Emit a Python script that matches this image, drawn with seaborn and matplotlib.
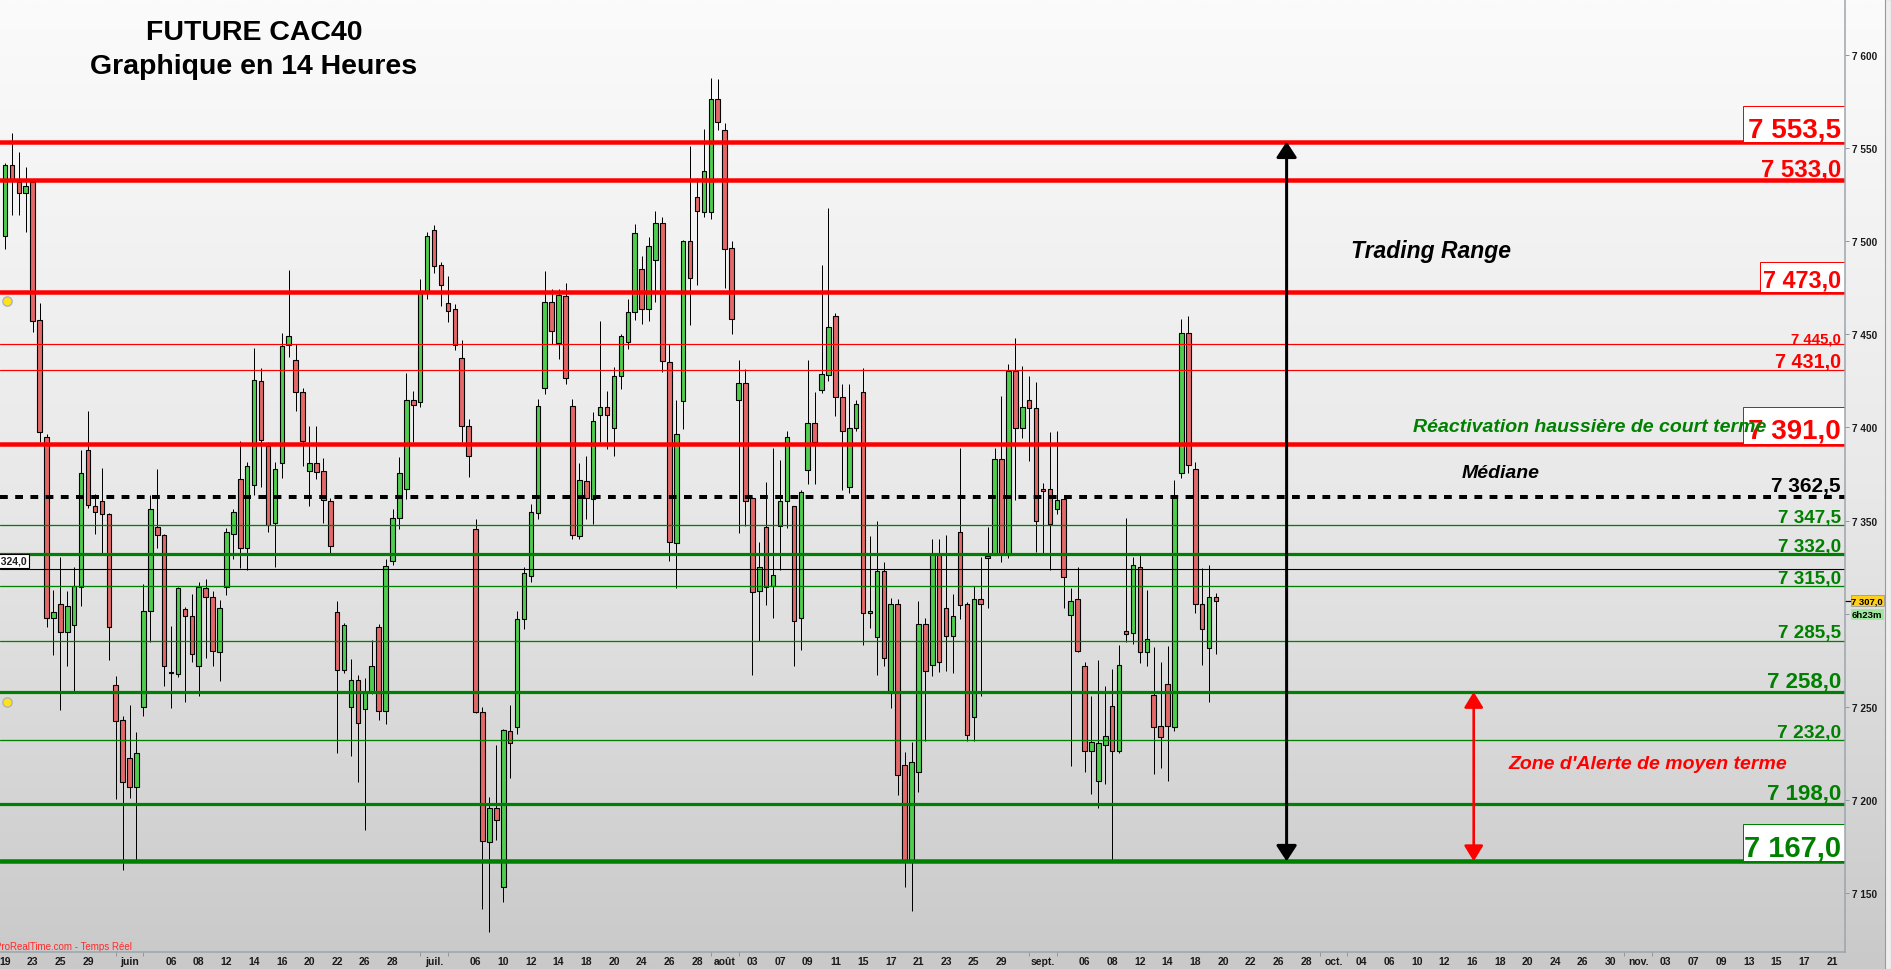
import numpy as np
import matplotlib
matplotlib.use("Agg")
import matplotlib.pyplot as plt
import matplotlib.transforms as mtransforms
from matplotlib.patches import Rectangle, FancyArrowPatch
from matplotlib.colors import LinearSegmentedColormap
import seaborn as sns

sns.set_theme(style="white")
plt.rcParams['font.family'] = ['Liberation Sans', 'DejaVu Sans']
plt.rcParams['axes.unicode_minus'] = False

# ---------------- data (14-hour candles, FCE future) ----------------
opens = [7503, 7541, 7531.6, 7525.7, 7531.6, 7457.7, 7394.7, 7297.5, 7305, 7290.3,
         7294, 7314.5, 7387.7, 7357.9, 7360.6, 7353.3, 7261.7, 7242.9, 7222.3, 7207,
         7249.7, 7301.2, 7346.7, 7342, 7268.5, 7267.4, 7302.3, 7298.5, 7271.7, 7314,
         7308.8, 7279.5, 7314.1, 7343, 7372.1, 7335.4, 7369.2, 7424.8, 7390.2, 7348.5,
         7380.7, 7444.2, 7436, 7418.9, 7376.8, 7381, 7376.4, 7360.3, 7300.7, 7270,
         7249.7, 7264.5, 7248.8, 7257.8, 7292.6, 7247.9, 7328.1, 7351.2, 7366.8, 7414.6,
         7413.9, 7472.6, 7506, 7487.4, 7466.8, 7463.6, 7437.1, 7400.9, 7345.3, 7247.4,
         7177.2, 7195.4, 7153, 7236.8, 7238.9, 7296.9, 7320.4, 7354.2, 7421, 7467.2,
         7445.1, 7470.4, 7411.4, 7341.9, 7371, 7361.7, 7406.5, 7411, 7399.8, 7427.5,
         7445.7, 7461.8, 7484.9, 7463.6, 7490, 7509.6, 7435, 7337.7, 7414, 7500,
         7523.6, 7515.6, 7515.6, 7576.4, 7559.6, 7496.2, 7415, 7423.7, 7361.9, 7312,
         7346.3, 7315, 7346.9, 7360.6, 7357.6, 7297.5, 7377.3, 7402.2, 7420.2, 7428.3,
         7459.7, 7416.3, 7368.2, 7399.5, 7418.9, 7300.5, 7287.3, 7322.7, 7257.2, 7305,
         7218.7, 7167.3, 7215.1, 7294.3, 7272.6, 7332.2, 7303.3, 7288.1, 7343.6, 7305,
         7244.3, 7307.7, 7330, 7331.7, 7383, 7331.7, 7430.1, 7399.5, 7414.6, 7410.3,
         7366.8, 7366.8, 7356, 7361.6, 7299.3, 7307.7, 7271.7, 7226, 7209.9, 7229.6,
         7250.6, 7226.4, 7290.5, 7289.5, 7325.3, 7279.2, 7256.5, 7239.5, 7262.1, 7239.3,
         7375.3, 7450.5, 7377.5, 7305, 7281.7, 7308.8]
highs = [7542, 7558, 7547.7, 7540, 7533, 7466.8, 7396.3, 7312.7, 7330.6, 7312,
         7325, 7388, 7408.8, 7364, 7378, 7354, 7266.7, 7245.2, 7251, 7236.6,
         7315.9, 7363.7, 7377.7, 7343, 7293.5, 7314.3, 7303.8, 7310.5, 7316.8, 7318.6,
         7312.3, 7307.5, 7346, 7356, 7392.7, 7381.3, 7442.6, 7431.9, 7392.3, 7381.3,
         7450.7, 7484.5, 7444.8, 7421, 7400.8, 7400.8, 7383.6, 7361.9, 7306.8, 7295,
         7275.6, 7267, 7265.4, 7285.8, 7294.4, 7329.3, 7356, 7384, 7429.2, 7419.6,
         7479.7, 7504.8, 7508.7, 7488.7, 7481.5, 7466.3, 7447, 7404.5, 7350.8, 7249.7,
         7201.7, 7229.4, 7238, 7250.9, 7301.4, 7325, 7358.9, 7415.3, 7484.2, 7474.3,
         7474.3, 7477.6, 7415.3, 7380.7, 7384.8, 7408.1, 7457.3, 7419.6, 7432.3, 7450.2,
         7469, 7509.2, 7492.2, 7502.1, 7516.2, 7512.9, 7445, 7414.7, 7500.6, 7551.3,
         7534, 7560.3, 7587.6, 7587.1, 7563.5, 7500, 7436.2, 7431.4, 7362.5, 7338.3,
         7370.5, 7389, 7382.5, 7398.3, 7358, 7366.2, 7436.2, 7419, 7487.2, 7517.8,
         7461.4, 7423.1, 7423.3, 7414.7, 7431.9, 7341.9, 7349.6, 7327.6, 7308.2, 7308,
         7225.5, 7231.3, 7306.8, 7297.6, 7340, 7340, 7342.2, 7310.5, 7389, 7306,
         7314.8, 7330.6, 7346.5, 7389, 7417, 7434.1, 7448, 7433, 7427.6, 7424.4,
         7370, 7397.7, 7398, 7362, 7313.9, 7325, 7273.8, 7256, 7275, 7261.3,
         7270.3, 7283, 7351.3, 7330.2, 7332.5, 7312.7, 7282, 7273.8, 7282.8, 7371.7,
         7458, 7460, 7381.3, 7324.5, 7326.1, 7310.9]
lows = [7496, 7514, 7514.2, 7505, 7451, 7392, 7293, 7278, 7248, 7272,
        7258, 7304, 7357, 7343, 7332, 7275, 7200.4, 7162.5, 7201, 7167.3,
        7244.9, 7284.6, 7335.4, 7261, 7249.1, 7266, 7252.4, 7274, 7255.6, 7276,
        7272, 7264, 7310, 7329.3, 7324.5, 7323.4, 7363.9, 7368.2, 7344, 7325.2,
        7373, 7437.8, 7409, 7379.4, 7358, 7372.3, 7348.7, 7332, 7225.1, 7268.2,
        7223.7, 7209.7, 7184, 7256.8, 7243.1, 7240.7, 7326.1, 7345.4, 7361.5, 7392,
        7411, 7469, 7482.9, 7465.4, 7456.8, 7441.7, 7392, 7373.4, 7246.6, 7141.3,
        7129, 7178.6, 7145.3, 7211.9, 7235.3, 7291.7, 7316.9, 7350.8, 7418, 7444.8,
        7436.7, 7423.3, 7340.1, 7340, 7350.8, 7348.1, 7392, 7388.4, 7384.8, 7420.6,
        7442, 7457.8, 7455.5, 7457.3, 7467.5, 7430, 7328.4, 7314, 7399.1, 7455,
        7476.7, 7513.2, 7512, 7560, 7475, 7450, 7343.3, 7347.2, 7267.2, 7285.5,
        7304.6, 7297.8, 7323.6, 7346, 7271.7, 7280.4, 7369.6, 7369.6, 7418.5, 7425,
        7406.3, 7366.4, 7364.9, 7398, 7283.3, 7292.3, 7267.2, 7272, 7249.3, 7202.8,
        7153.4, 7140.5, 7204.4, 7231.8, 7266.5, 7268.5, 7269.4, 7268.2, 7297.1, 7231.8,
        7231.8, 7255.9, 7302.8, 7331.5, 7328, 7330, 7361.2, 7394.3, 7382.1, 7333.2,
        7332, 7323.6, 7353.7, 7303.3, 7218.4, 7279.5, 7215.1, 7202.9, 7195.6, 7208.5,
        7167.3, 7225.1, 7284.6, 7283.7, 7273.5, 7271.7, 7214, 7217.1, 7210.2, 7237.1,
        7373, 7375.3, 7300.5, 7272.6, 7252.7, 7278.3]
closes = [7541, 7532.5, 7525.7, 7529.5, 7457.3, 7397.7, 7297.5, 7301, 7290.3, 7304,
          7314.7, 7375.3, 7358.5, 7354.4, 7353.3, 7292.6, 7242.5, 7209.7, 7207, 7225,
          7301.2, 7356, 7342, 7271.7, 7268, 7313.7, 7298.9, 7278.1, 7314.1, 7309,
          7280, 7303.3, 7343.6, 7354.7, 7335.4, 7379.1, 7425.3, 7393.4, 7347.7, 7377.5,
          7443.9, 7448.9, 7418.9, 7392.5, 7380.7, 7375.9, 7360.8, 7336.2, 7270, 7293.9,
          7264.5, 7241.1, 7257.8, 7271.7, 7247.9, 7325.7, 7351.2, 7375.3, 7414.6, 7411.9,
          7472.6, 7502.7, 7486.9, 7476.7, 7462.7, 7444.3, 7400.9, 7384.8, 7247.4, 7178.1,
          7195.4, 7189.3, 7237.4, 7230.3, 7297.1, 7321.6, 7354.4, 7411.4, 7467.2, 7451.6,
          7471.1, 7426.4, 7342.4, 7371.9, 7362.1, 7403.3, 7411, 7406.8, 7427.5, 7449,
          7461.8, 7504.3, 7463.6, 7497.6, 7509.6, 7435.8, 7338.3, 7396.3, 7500, 7480.4,
          7516.1, 7537.5, 7576.4, 7564.2, 7495.7, 7458, 7423.7, 7360.3, 7311.4, 7325.3,
          7314.5, 7321, 7360.6, 7394.7, 7296.2, 7365.2, 7402.2, 7392.3, 7428.5, 7453.8,
          7416.3, 7398.3, 7399.5, 7412.4, 7300.5, 7301.5, 7322.7, 7276, 7305, 7213.5,
          7167.3, 7220.2, 7294.3, 7269.4, 7332.2, 7274.2, 7288.1, 7298.5, 7304.8, 7235,
          7307.7, 7305.4, 7331, 7382.9, 7332, 7430.1, 7399.5, 7410.8, 7410.3, 7349.6,
          7366, 7348.3, 7361.2, 7319.5, 7307, 7280.1, 7226, 7230.9, 7230.3, 7234.4,
          7226.4, 7272.6, 7289.2, 7326.2, 7279.5, 7286.4, 7239.3, 7233.6, 7239.7, 7361.9,
          7450.5, 7379.8, 7305, 7291.6, 7308.8, 7307]

first_session = "2023-05-19"
candles_per_day = 2
tick_dates = ["2023-05-19", "2023-05-23", "2023-05-25", "2023-05-29", "2023-06-01", "2023-06-06",
              "2023-06-08", "2023-06-12", "2023-06-14", "2023-06-16", "2023-06-20", "2023-06-22",
              "2023-06-26", "2023-06-28", "2023-07-03", "2023-07-06", "2023-07-10", "2023-07-12",
              "2023-07-14", "2023-07-18", "2023-07-20", "2023-07-24", "2023-07-26", "2023-07-28",
              "2023-08-01", "2023-08-03", "2023-08-07", "2023-08-09", "2023-08-11", "2023-08-15",
              "2023-08-17", "2023-08-21", "2023-08-23", "2023-08-25", "2023-08-29", "2023-09-01",
              "2023-09-06", "2023-09-08", "2023-09-12", "2023-09-14", "2023-09-18", "2023-09-20",
              "2023-09-22", "2023-09-26", "2023-09-28", "2023-10-02", "2023-10-04", "2023-10-06",
              "2023-10-10", "2023-10-12", "2023-10-16", "2023-10-18", "2023-10-20", "2023-10-24",
              "2023-10-26", "2023-10-30", "2023-11-01", "2023-11-03", "2023-11-07", "2023-11-09",
              "2023-11-13", "2023-11-15", "2023-11-17", "2023-11-21"]
tick_labels = ["19", "23", "25", "29", "juin", "06", "08", "12", "14", "16", "20", "22",
               "26", "28", "juil.", "06", "10", "12", "14", "18", "20", "24", "26", "28",
               "août", "03", "07", "09", "11", "15", "17", "21", "23", "25", "29", "sept.",
               "06", "08", "12", "14", "18", "20", "22", "26", "28", "oct.", "04", "06",
               "10", "12", "16", "18", "20", "24", "26", "30", "nov.", "03", "07", "09",
               "13", "15", "17", "21"]
month_labels = ["juin", "juil.", "août", "sept.", "oct.", "nov."]

y_ticks = [7150, 7200, 7250, 7300, 7350, 7400, 7450, 7500, 7550, 7600]
level_values = [7553.5, 7533.0, 7473.0, 7445.0, 7431.0, 7391.0, 7362.5, 7347.5,
                7332.0, 7324.0, 7315.0, 7285.5, 7258.0, 7232.0, 7198.0, 7167.0]
last_price = 7307.0
time_left = "6h23m"
title_lines = ["FUTURE CAC40", "Graphique en 14 Heures"]
txt_range = "Trading Range"
txt_reactivation = "Réactivation haussière de court terme"
txt_mediane = "Médiane"
txt_zone = "Zone d'Alerte de moyen terme"
txt_source = "ProRealTime.com - Temps Réel"
range_top, range_bottom = 7553.5, 7167.0
zone_top, zone_bottom = 7258.0, 7167.0

# ---------------- styles ----------------
RED = '#ff0000'
GREEN = '#008000'
BLACK = '#000000'
C_UP = '#4fcd4f'
C_DN = '#e36868'


def fmt(v, dec=1):
    s = f"{v:,.{dec}f}"
    return s.replace(",", " ").replace(".", ",")


# color, line width px, linestyle, label size pt, boxed, label offset px, box left px, box height px
STYLE = {
    7553.5: (RED, 4.5, '-', 20, True, 5.5, 1743, 36),
    7533.0: (RED, 4.5, '-', 17.3, False, 4.0, None, 0),
    7473.0: (RED, 4.5, '-', 16.8, True, 5.0, 1760, 30),
    7445.0: (RED, 1.2, '-', 10.8, False, 1.5, None, 0),
    7431.0: (RED, 1.2, '-', 14.2, False, 2.5, None, 0),
    7391.0: (RED, 4.5, '-', 20, True, 6.5, 1743, 37),
    7362.5: (BLACK, 4.0, 'dash', 15, False, 6.0, None, 0),
    7347.5: (GREEN, 1.3, '-', 13.6, False, 3.0, None, 0),
    7332.0: (GREEN, 3.2, '-', 13.6, False, 3.0, None, 0),
    7324.0: (BLACK, 1.1, '-', None, False, 0, None, 0),
    7315.0: (GREEN, 1.3, '-', 13.6, False, 2.6, None, 0),
    7285.5: (GREEN, 1.3, '-', 13.6, False, 3.4, None, 0),
    7258.0: (GREEN, 3.2, '-', 16, False, 5.5, None, 0),
    7232.0: (GREEN, 1.3, '-', 13.8, False, 3.2, None, 0),
    7198.0: (GREEN, 3.2, '-', 16, False, 5.5, None, 0),
    7167.0: (GREEN, 4.5, '-', 21, True, 5.5, 1743, 37),
}

W, H = 1891, 970
PX_R, PX_B = 1845, 953
PT = 0.72  # points per pixel at dpi 100

fig = plt.figure(figsize=(W / 100, H / 100), dpi=100)
fig.patch.set_facecolor('#dcdcdc')

bg = fig.add_axes([0, 0, 1, 1], zorder=0)
grad = np.linspace(0, 1, 512).reshape(-1, 1)
cmap = LinearSegmentedColormap.from_list('bg', ['#fbfbfb', '#e9e9e9', '#c9c9c9'])
bg.imshow(grad, aspect='auto', cmap=cmap, extent=[0, 1, 0, 1], origin='upper')
bg.set_axis_off()

ax = fig.add_axes([0, (H - PX_B) / H, PX_R / W, PX_B / H], zorder=1)
ax.set_facecolor('none')

n = len(opens)
step = 6.92
ax.set_xlim(-5 / step, (PX_R - 5) / step)
ax.set_ylim(7118.3, 7630.1)

o = np.array(opens); c = np.array(closes); hi = np.array(highs); lo = np.array(lows)
x = np.arange(n)
up = c >= o
bottom = np.minimum(o, c)
height = np.maximum(np.abs(c - o), 0.6)
ax.vlines(x, lo, hi, color='black', lw=1.0 * PT, zorder=2)
ax.bar(x[up], height[up], bottom=bottom[up], width=0.66, color=C_UP,
       edgecolor='black', linewidth=1.1 * PT, zorder=3)
ax.bar(x[~up], height[~up], bottom=bottom[~up], width=0.66, color=C_DN,
       edgecolor='black', linewidth=1.1 * PT, zorder=3)

tr = mtransforms.blended_transform_factory(ax.transAxes, ax.transData)
xr = 1841 / PX_R
for v in level_values:
    col, lw, ls, size, boxed, off, bx, bh = STYLE[v]
    if ls == 'dash':
        ax.axhline(v, color=col, lw=lw * PT, linestyle=(0, (7.8 / lw, 7.4 / lw)),
                   dash_capstyle='butt', zorder=4)
    else:
        ax.axhline(v, color=col, lw=lw * PT, zorder=4)
    if boxed:
        hp = bh / 1.862
        ax.add_patch(Rectangle((bx / PX_R, v), 1 - bx / PX_R, hp, transform=tr,
                               facecolor='white', edgecolor=col, lw=1.0 * PT, zorder=5))
    if size is not None:
        ttr = mtransforms.offset_copy(tr, fig=fig, y=off, units='dots')
        ax.text(xr, v, fmt(v), transform=ttr, ha='right', va='baseline', color=col,
                fontsize=size, fontweight='bold', zorder=7)

# annotations
ax.text(1351 / PX_R, 7491.5, txt_range, transform=tr, fontsize=16.5, fontweight='bold',
        fontstyle='italic', color=BLACK, ha='left', va='baseline', zorder=8)
ax.text(1413 / PX_R, 7398.0, txt_reactivation, transform=tr, fontsize=14, fontweight='bold',
        fontstyle='italic', color=GREEN, ha='left', va='baseline', zorder=8)
ax.text(1462 / PX_R, 7373.4, txt_mediane, transform=tr, fontsize=14, fontweight='bold',
        fontstyle='italic', color=BLACK, ha='left', va='baseline', zorder=8)
ax.text(1508 / PX_R, 7217.1, txt_zone, transform=tr, fontsize=14, fontweight='bold',
        fontstyle='italic', color=RED, ha='left', va='baseline', zorder=8)

ax.add_patch(FancyArrowPatch((1286.6 / PX_R, range_top), (1286.6 / PX_R, range_bottom),
                             transform=tr, arrowstyle='<|-|>,head_length=9.5,head_width=6.2',
                             mutation_scale=1, color=BLACK, lw=3.0 * PT, shrinkA=0, shrinkB=0,
                             zorder=6))
ax.add_patch(FancyArrowPatch((1473.7 / PX_R, zone_top), (1473.7 / PX_R, zone_bottom),
                             transform=tr, arrowstyle='<|-|>,head_length=9.5,head_width=5.8',
                             mutation_scale=1, color=RED, lw=2.6 * PT, shrinkA=0, shrinkB=0,
                             zorder=6))

# title
ax.text(254 / PX_R, 1 - 40 / PX_B, title_lines[0], transform=ax.transAxes, ha='center',
        va='baseline', fontsize=20.5, fontweight='bold', color=BLACK, zorder=8)
ax.text(254 / PX_R, 1 - 74 / PX_B, title_lines[1], transform=ax.transAxes, ha='center',
        va='baseline', fontsize=20.5, fontweight='bold', color=BLACK, zorder=8)

# left tag of the 7324 line
ax.text(27 / PX_R, 7324.0, fmt(7324.0), transform=mtransforms.offset_copy(tr, fig=fig, y=3, units='dots'),
        ha='right', va='bottom', fontsize=7.5, fontweight='bold', color='#202020',
        bbox=dict(boxstyle='square,pad=0.22', fc='white', ec='black', lw=0.8),
        clip_on=True, zorder=8)

# alert bells
ax.scatter([0.004, 0.004], [7468, 7252.5], transform=tr, s=45, c='#ffe21a',
           edgecolors='#aab4c4', linewidths=1.0, zorder=8, clip_on=True)

ax.text(-0.0025, 3 / PX_B, txt_source, transform=ax.transAxes, ha='left', va='baseline',
        fontsize=7, color='#ff2a2a', zorder=8)

# axes cosmetics
for s in ['top', 'left']:
    ax.spines[s].set_visible(False)
for s in ['right', 'bottom']:
    ax.spines[s].set_color('#9aa4ac')
    ax.spines[s].set_linewidth(1.5 * PT)
    ax.spines[s].set_zorder(9)

ax.yaxis.tick_right()
ax.set_yticks(y_ticks)
ax.set_yticklabels([fmt(v, 0) for v in y_ticks])
ax.tick_params(axis='y', which='major', length=4 * PT, width=1 * PT, color='#8f99a2',
               pad=2, labelsize=7.2, labelcolor='#1a1a1a', right=True, left=False)
for lab in ax.get_yticklabels():
    lab.set_fontweight('bold')

pos = np.busday_count(first_session, np.array(tick_dates, dtype='datetime64[D]')) * candles_per_day
ax.set_xticks(pos)
ax.set_xticklabels(tick_labels)
mpos = [p for p, l in zip(pos, tick_labels) if l in month_labels]
ax.set_xticks([p + d for p in mpos for d in (-2, 2)], minor=True)
ax.tick_params(axis='x', which='major', length=0, pad=3, labelsize=7.5, labelcolor='#1a1a1a')
ax.tick_params(axis='x', which='minor', length=4 * PT, width=1 * PT, color='#8f99a2', bottom=True)
for lab in ax.get_xticklabels():
    lab.set_fontweight('bold')
ax.grid(False)

# last price tag on the scale
ax.plot([1.0, 1.003], [last_price, last_price], transform=tr, color='black', lw=1.2 * PT,
        clip_on=False, zorder=9)
ax.text(1.0035, last_price, fmt(last_price), transform=tr, ha='left', va='center',
        fontsize=6.8, fontweight='bold', color='black', clip_on=False, zorder=9,
        bbox=dict(boxstyle='square,pad=0.1', fc='#ffcf1f', ec='#9a9a9a', lw=0.6))
ax.text(1.0035, last_price - 7.2, time_left, transform=tr, ha='left', va='center',
        fontsize=6.8, fontweight='bold', color='black', clip_on=False, zorder=9,
        bbox=dict(boxstyle='square,pad=0.1', fc='#9de69d', ec='#b8d8b8', lw=0.6))

# far right side panel edge
fig.patches.append(Rectangle((1885 / W, 0), 6 / W, 1, transform=fig.transFigure,
                             facecolor='#eeeeee', edgecolor='#9a9a9a', lw=0.8, zorder=0))

fig.savefig("out.png", dpi=100, facecolor=fig.get_facecolor())
